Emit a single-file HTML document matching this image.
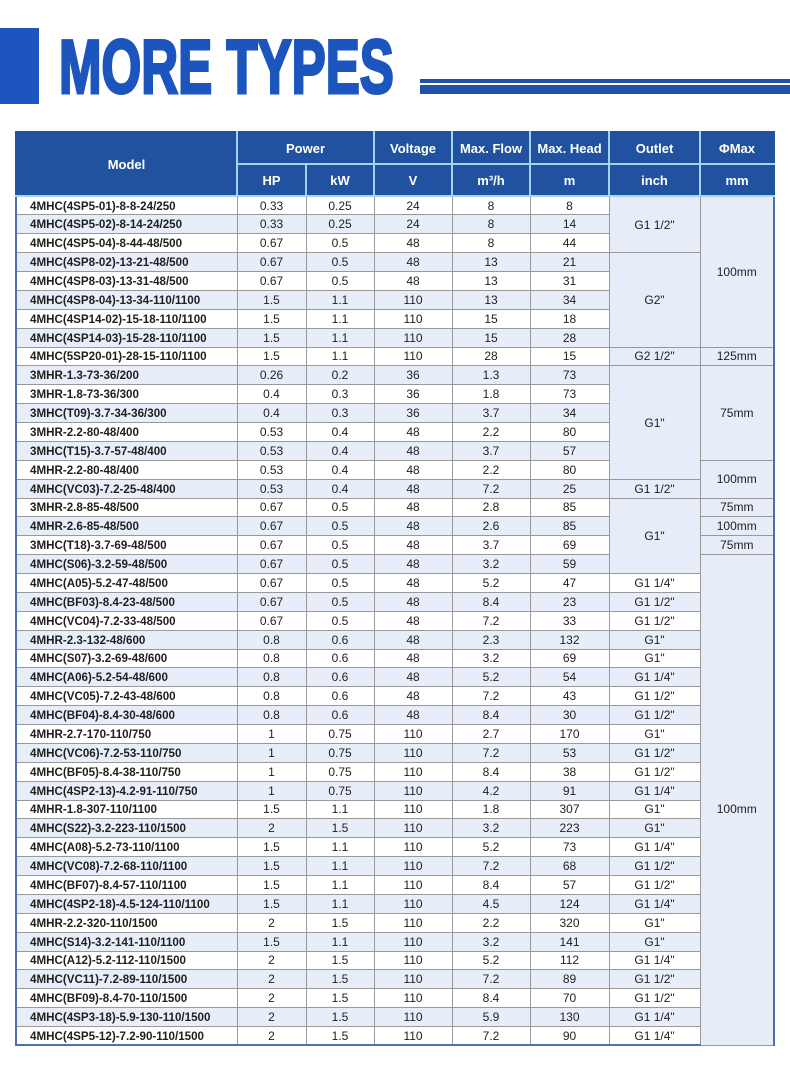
<!DOCTYPE html>
<html>
<head>
<meta charset="utf-8">
<style>
  html,body{margin:0;padding:0;background:#fff;}
  body{width:790px;height:1068px;position:relative;overflow:hidden;font-family:"Liberation Sans",Arial,sans-serif;}
  .blk{position:absolute;left:0;top:28px;width:39px;height:76px;background:#1b55bd;}
  .title{position:absolute;left:59px;top:29.5px;font-size:76px;line-height:76px;font-weight:bold;color:#1b55bd;
    -webkit-text-stroke:3px #1b55bd;transform:scaleX(0.672);transform-origin:0 0;white-space:nowrap;letter-spacing:0px;}
  .l1{position:absolute;left:420px;top:79px;width:370px;height:3.5px;background:#2152a8;}
  .l2{position:absolute;left:420px;top:85px;width:370px;height:9px;background:#2152a8;}
  table{position:absolute;left:15px;top:131px;width:758px;border-collapse:collapse;table-layout:fixed;}
  th{background:#2152a0;color:#fff;font-size:13px;font-weight:bold;padding:0;border:2px solid #a6d3f2;text-align:center;vertical-align:middle;}
  thead tr{height:32px;}
  thead tr:first-child th{border-top:2px solid #2152a0;}
  th.fl{border-left:2px solid #2152a0;}
  th.fr{border-right:2px solid #2152a0;}
  tbody tr{height:18.89px;}
  td{padding:0;font-size:12px;text-align:center;vertical-align:middle;border:1px solid #999;color:#1e1e1e;line-height:16px;white-space:nowrap;background:#fff;}
  tbody tr:nth-child(even) td{background:#e8eef9;}
  td.m{text-align:left;padding-left:13px;padding-top:1px;line-height:15px;font-weight:bold;font-size:11.6px;border-left:2px solid #4e6fb0;}
  td.r{border-right:2px solid #4e6fb0;}
  tbody tr:last-child td{border-bottom:2px solid #4e6fb0;}
  td.mg, tbody tr:nth-child(even) td.mg{background:#e6edf8;}
</style>
</head>
<body>
<div class="blk"></div>
<div class="title">MORE TYPES</div>
<div class="l1"></div>
<div class="l2"></div>

<table>
<colgroup>
<col style="width:221px"><col style="width:69px"><col style="width:68px"><col style="width:78px"><col style="width:78px"><col style="width:79px"><col style="width:91px"><col style="width:74px">
</colgroup>
<thead>
<tr><th rowspan="2" class="fl">Model</th><th colspan="2">Power</th><th>Voltage</th><th>Max. Flow</th><th>Max. Head</th><th>Outlet</th><th class="fr">ΦMax</th></tr>
<tr><th>HP</th><th>kW</th><th>V</th><th>m³/h</th><th>m</th><th>inch</th><th class="fr">mm</th></tr>
</thead>
<tbody>
<tr><td class="m">4MHC(4SP5-01)-8-8-24/250</td><td>0.33</td><td>0.25</td><td>24</td><td>8</td><td>8</td><td class="mg" rowspan="3">G1 1/2"</td><td class="mg r" rowspan="8">100mm</td></tr>
<tr><td class="m">4MHC(4SP5-02)-8-14-24/250</td><td>0.33</td><td>0.25</td><td>24</td><td>8</td><td>14</td></tr>
<tr><td class="m">4MHC(4SP5-04)-8-44-48/500</td><td>0.67</td><td>0.5</td><td>48</td><td>8</td><td>44</td></tr>
<tr><td class="m">4MHC(4SP8-02)-13-21-48/500</td><td>0.67</td><td>0.5</td><td>48</td><td>13</td><td>21</td><td class="mg" rowspan="5">G2"</td></tr>
<tr><td class="m">4MHC(4SP8-03)-13-31-48/500</td><td>0.67</td><td>0.5</td><td>48</td><td>13</td><td>31</td></tr>
<tr><td class="m">4MHC(4SP8-04)-13-34-110/1100</td><td>1.5</td><td>1.1</td><td>110</td><td>13</td><td>34</td></tr>
<tr><td class="m">4MHC(4SP14-02)-15-18-110/1100</td><td>1.5</td><td>1.1</td><td>110</td><td>15</td><td>18</td></tr>
<tr><td class="m">4MHC(4SP14-03)-15-28-110/1100</td><td>1.5</td><td>1.1</td><td>110</td><td>15</td><td>28</td></tr>
<tr><td class="m">4MHC(5SP20-01)-28-15-110/1100</td><td>1.5</td><td>1.1</td><td>110</td><td>28</td><td>15</td><td class="mg">G2 1/2"</td><td class="mg r">125mm</td></tr>
<tr><td class="m">3MHR-1.3-73-36/200</td><td>0.26</td><td>0.2</td><td>36</td><td>1.3</td><td>73</td><td class="mg" rowspan="6">G1"</td><td class="mg r" rowspan="5">75mm</td></tr>
<tr><td class="m">3MHR-1.8-73-36/300</td><td>0.4</td><td>0.3</td><td>36</td><td>1.8</td><td>73</td></tr>
<tr><td class="m">3MHC(T09)-3.7-34-36/300</td><td>0.4</td><td>0.3</td><td>36</td><td>3.7</td><td>34</td></tr>
<tr><td class="m">3MHR-2.2-80-48/400</td><td>0.53</td><td>0.4</td><td>48</td><td>2.2</td><td>80</td></tr>
<tr><td class="m">3MHC(T15)-3.7-57-48/400</td><td>0.53</td><td>0.4</td><td>48</td><td>3.7</td><td>57</td></tr>
<tr><td class="m">4MHR-2.2-80-48/400</td><td>0.53</td><td>0.4</td><td>48</td><td>2.2</td><td>80</td><td class="mg r" rowspan="2">100mm</td></tr>
<tr><td class="m">4MHC(VC03)-7.2-25-48/400</td><td>0.53</td><td>0.4</td><td>48</td><td>7.2</td><td>25</td><td class="mg">G1 1/2"</td></tr>
<tr><td class="m">3MHR-2.8-85-48/500</td><td>0.67</td><td>0.5</td><td>48</td><td>2.8</td><td>85</td><td class="mg" rowspan="4">G1"</td><td class="mg r">75mm</td></tr>
<tr><td class="m">4MHR-2.6-85-48/500</td><td>0.67</td><td>0.5</td><td>48</td><td>2.6</td><td>85</td><td class="mg r">100mm</td></tr>
<tr><td class="m">3MHC(T18)-3.7-69-48/500</td><td>0.67</td><td>0.5</td><td>48</td><td>3.7</td><td>69</td><td class="mg r">75mm</td></tr>
<tr><td class="m">4MHC(S06)-3.2-59-48/500</td><td>0.67</td><td>0.5</td><td>48</td><td>3.2</td><td>59</td><td class="mg r" rowspan="26" style="padding-top:18px;">100mm</td></tr>
<tr><td class="m">4MHC(A05)-5.2-47-48/500</td><td>0.67</td><td>0.5</td><td>48</td><td>5.2</td><td>47</td><td>G1 1/4"</td></tr>
<tr><td class="m">4MHC(BF03)-8.4-23-48/500</td><td>0.67</td><td>0.5</td><td>48</td><td>8.4</td><td>23</td><td>G1 1/2"</td></tr>
<tr><td class="m">4MHC(VC04)-7.2-33-48/500</td><td>0.67</td><td>0.5</td><td>48</td><td>7.2</td><td>33</td><td>G1 1/2"</td></tr>
<tr><td class="m">4MHR-2.3-132-48/600</td><td>0.8</td><td>0.6</td><td>48</td><td>2.3</td><td>132</td><td>G1"</td></tr>
<tr><td class="m">4MHC(S07)-3.2-69-48/600</td><td>0.8</td><td>0.6</td><td>48</td><td>3.2</td><td>69</td><td>G1"</td></tr>
<tr><td class="m">4MHC(A06)-5.2-54-48/600</td><td>0.8</td><td>0.6</td><td>48</td><td>5.2</td><td>54</td><td>G1 1/4"</td></tr>
<tr><td class="m">4MHC(VC05)-7.2-43-48/600</td><td>0.8</td><td>0.6</td><td>48</td><td>7.2</td><td>43</td><td>G1 1/2"</td></tr>
<tr><td class="m">4MHC(BF04)-8.4-30-48/600</td><td>0.8</td><td>0.6</td><td>48</td><td>8.4</td><td>30</td><td>G1 1/2"</td></tr>
<tr><td class="m">4MHR-2.7-170-110/750</td><td>1</td><td>0.75</td><td>110</td><td>2.7</td><td>170</td><td>G1"</td></tr>
<tr><td class="m">4MHC(VC06)-7.2-53-110/750</td><td>1</td><td>0.75</td><td>110</td><td>7.2</td><td>53</td><td>G1 1/2"</td></tr>
<tr><td class="m">4MHC(BF05)-8.4-38-110/750</td><td>1</td><td>0.75</td><td>110</td><td>8.4</td><td>38</td><td>G1 1/2"</td></tr>
<tr><td class="m">4MHC(4SP2-13)-4.2-91-110/750</td><td>1</td><td>0.75</td><td>110</td><td>4.2</td><td>91</td><td>G1 1/4"</td></tr>
<tr><td class="m">4MHR-1.8-307-110/1100</td><td>1.5</td><td>1.1</td><td>110</td><td>1.8</td><td>307</td><td>G1"</td></tr>
<tr><td class="m">4MHC(S22)-3.2-223-110/1500</td><td>2</td><td>1.5</td><td>110</td><td>3.2</td><td>223</td><td>G1"</td></tr>
<tr><td class="m">4MHC(A08)-5.2-73-110/1100</td><td>1.5</td><td>1.1</td><td>110</td><td>5.2</td><td>73</td><td>G1 1/4"</td></tr>
<tr><td class="m">4MHC(VC08)-7.2-68-110/1100</td><td>1.5</td><td>1.1</td><td>110</td><td>7.2</td><td>68</td><td>G1 1/2"</td></tr>
<tr><td class="m">4MHC(BF07)-8.4-57-110/1100</td><td>1.5</td><td>1.1</td><td>110</td><td>8.4</td><td>57</td><td>G1 1/2"</td></tr>
<tr><td class="m">4MHC(4SP2-18)-4.5-124-110/1100</td><td>1.5</td><td>1.1</td><td>110</td><td>4.5</td><td>124</td><td>G1 1/4"</td></tr>
<tr><td class="m">4MHR-2.2-320-110/1500</td><td>2</td><td>1.5</td><td>110</td><td>2.2</td><td>320</td><td>G1"</td></tr>
<tr><td class="m">4MHC(S14)-3.2-141-110/1100</td><td>1.5</td><td>1.1</td><td>110</td><td>3.2</td><td>141</td><td>G1"</td></tr>
<tr><td class="m">4MHC(A12)-5.2-112-110/1500</td><td>2</td><td>1.5</td><td>110</td><td>5.2</td><td>112</td><td>G1 1/4"</td></tr>
<tr><td class="m">4MHC(VC11)-7.2-89-110/1500</td><td>2</td><td>1.5</td><td>110</td><td>7.2</td><td>89</td><td>G1 1/2"</td></tr>
<tr><td class="m">4MHC(BF09)-8.4-70-110/1500</td><td>2</td><td>1.5</td><td>110</td><td>8.4</td><td>70</td><td>G1 1/2"</td></tr>
<tr><td class="m">4MHC(4SP3-18)-5.9-130-110/1500</td><td>2</td><td>1.5</td><td>110</td><td>5.9</td><td>130</td><td>G1 1/4"</td></tr>
<tr><td class="m">4MHC(4SP5-12)-7.2-90-110/1500</td><td>2</td><td>1.5</td><td>110</td><td>7.2</td><td>90</td><td>G1 1/4"</td></tr>
</tbody>
</table>
</body>
</html>
